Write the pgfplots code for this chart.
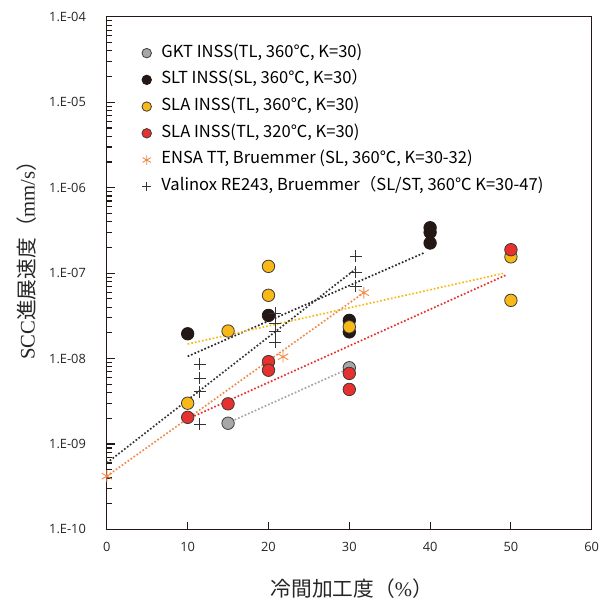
\documentclass[border=0pt]{standalone}
\usepackage{fontspec}
\usepackage{pgfplots}
\pgfplotsset{compat=1.18}
\setmainfont{Open Sans}
\newfontfamily\cjk{Noto Sans CJK JP}
\newfontfamily\serif{Liberation Serif}

\definecolor{axcol}{HTML}{231815}
\definecolor{gktfill}{HTML}{A7A7A7}
\definecolor{sltfill}{HTML}{231815}
\definecolor{slafill}{HTML}{F8B817}
\definecolor{redfill}{HTML}{E6312E}
\definecolor{ensa}{HTML}{F08A4B}
\definecolor{mkedge}{HTML}{3A3A3A}

\begin{document}
\begin{tikzpicture}
\begin{axis}[
    scale only axis,
    width=490bp,
    height=518bp,
    ymode=log,
    xmin=0, xmax=60,
    ymin=1e-10, ymax=1e-4,
    xtick={0,10,...,60},
    ytick={1e-10,1e-9,1e-8,1e-7,1e-6,1e-5,1e-4},
    yticklabels={1.E-10,1.E-09,1.E-08,1.E-07,1.E-06,1.E-05,1.E-04},
    /pgf/number format/assume math mode=true,
    xtick pos=bottom,
    ytick pos=left,
    tick align=inside,
    major tick length=8bp,
    minor tick length=5bp,
    axis line style={draw=axcol, line width=1.2bp},
    tick style={draw=axcol, line width=1bp},
    ticklabel style={font=\fontsize{13}{15}\selectfont, text=black!85},
    xticklabel style={anchor=center, inner sep=0pt, yshift=-18bp},
    yticklabel style={anchor=east, inner sep=0pt, xshift=-21bp},
    xlabel={{\cjk 冷間加工度（}{\serif\%}{\cjk ）}},
    ylabel={{\serif SCC}{\cjk 進展速度（}{\serif mm/s}{\cjk ）}},
    label style={font=\fontsize{21}{24}\selectfont, text=black!85},
    xlabel style={at={(axis description cs:0.505,-0.116)}, anchor=center},
    ylabel style={at={(axis description cs:-0.165,0.535)}, anchor=center},
    legend style={draw=none, fill=none, at={(0.072,0.945)}, anchor=north west,
        font=\cjk\fontsize{16.8}{19}\selectfont, row sep=11bp, inner sep=0pt,
        nodes={inner xsep=4bp, inner ysep=0pt, text height=12bp, text depth=4bp},
        /tikz/every odd column/.append style={column sep=6bp}},
    legend cell align=left,
    legend image post style={mark size=4.8bp},
]
% dotted trend lines
\addplot[forget plot, gray!70, dotted, line width=1.7bp] coordinates {(15,1.77e-9) (30,7.7e-9)};
\addplot[forget plot, black!85, dotted, line width=1.7bp] coordinates {(10,1.06e-8) (39.2,1.72e-7)};
\addplot[forget plot, slafill, dotted, line width=1.7bp] coordinates {(10,1.48e-8) (49.2,1.0e-7)};
\addplot[forget plot, redfill, dotted, line width=1.7bp] coordinates {(10,1.96e-9) (49.5,9.6e-8)};
\addplot[forget plot, ensa, dotted, line width=1.7bp] coordinates {(0,4.2e-10) (31.8,5.9e-8)};
\addplot[forget plot, black!80, dotted, line width=1.7bp] coordinates {(0,6.0e-10) (30.8,1.12e-7)};

\addplot[only marks, mark=*, mark size=6.3bp, mark options={fill=gktfill, draw=mkedge, line width=0.8bp}]
    coordinates {(15,1.75e-9) (30,7.8e-9)};
\addlegendentry{GKT INSS(TL, 360℃, K=30)}
\addplot[only marks, mark=*, mark size=6.3bp, mark options={fill=sltfill, draw=sltfill, line width=0.8bp}]
    coordinates {(10,1.95e-8) (20,3.2e-8) (30,2.8e-8) (30,2.05e-8) (40,3.4e-7) (40,3.0e-7) (40,2.25e-7)};
\addlegendentry{SLT INSS(SL, 360℃, K=30）}
\addplot[only marks, mark=*, mark size=6.3bp, mark options={fill=slafill, draw=mkedge, line width=0.8bp}]
    coordinates {(10,3.0e-9) (15,2.1e-8) (20,1.2e-7) (20,5.5e-8) (30,2.35e-8) (50,1.55e-7) (50,4.8e-8)};
\addlegendentry{SLA INSS(TL, 360℃, K=30)}
\addplot[only marks, mark=*, mark size=6.3bp, mark options={fill=redfill, draw=mkedge, line width=0.8bp}]
    coordinates {(10,2.05e-9) (15,2.95e-9) (20,9.2e-9) (20,7.3e-9) (30,6.7e-9) (30,4.35e-9) (50,1.88e-7)};
\addlegendentry{SLA INSS(TL, 320℃, K=30)}
\addplot[only marks, mark=asterisk, mark size=6bp, mark options={draw=ensa, line width=0.9bp}]
    coordinates {(0,4.2e-10) (21.8,1.05e-8) (31.8,5.9e-8)};
\addlegendentry{ENSA TT, Bruemmer (SL, 360℃, K=30-32)}
\addplot[only marks, mark=+, mark size=6bp, mark options={draw=black!80, line width=0.9bp}]
    coordinates {(11.5,8.6e-9) (11.5,5.9e-9) (11.5,4.1e-9) (11.5,1.7e-9)
                 (20.8,3.4e-8) (20.8,2.6e-8) (20.8,2.05e-8) (20.8,1.55e-8)
                 (30.8,1.58e-7) (30.8,1.02e-7) (30.8,7.0e-8)};
\addlegendentry{Valinox RE243, Bruemmer（SL/ST, 360℃ K=30-47)}
% frame and tick marks drawn explicitly as well
\draw[axcol, line width=1.2bp] (rel axis cs:0,0) rectangle (rel axis cs:1,1);
\pgfplotsinvokeforeach{10,20,30,40,50}{
    \draw[axcol, line width=0.9bp] (axis cs:#1,1e-10) -- ([yshift=6bp]axis cs:#1,1e-10);
}
\pgfplotsinvokeforeach{1e-9,1e-8,1e-7,1e-6,1e-5}{
    \draw[axcol, line width=0.9bp] (axis cs:0,#1) -- ([xshift=8bp]axis cs:0,#1);
}
\pgfplotsinvokeforeach{2e-10,3e-10,4e-10,5e-10,6e-10,7e-10,8e-10,9e-10,
                 2e-9,3e-9,4e-9,5e-9,6e-9,7e-9,8e-9,9e-9,
                 2e-8,3e-8,4e-8,5e-8,6e-8,7e-8,8e-8,9e-8,
                 2e-7,3e-7,4e-7,5e-7,6e-7,7e-7,8e-7,9e-7,
                 2e-6,3e-6,4e-6,5e-6,6e-6,7e-6,8e-6,9e-6,
                 2e-5,3e-5,4e-5,5e-5,6e-5,7e-5,8e-5,9e-5}{
    \draw[axcol, line width=0.7bp] (axis cs:0,#1) -- ([xshift=5bp]axis cs:0,#1);
}
\end{axis}
\path (-108bp,-64bp) rectangle (494bp,535bp);
\end{tikzpicture}
\end{document}
